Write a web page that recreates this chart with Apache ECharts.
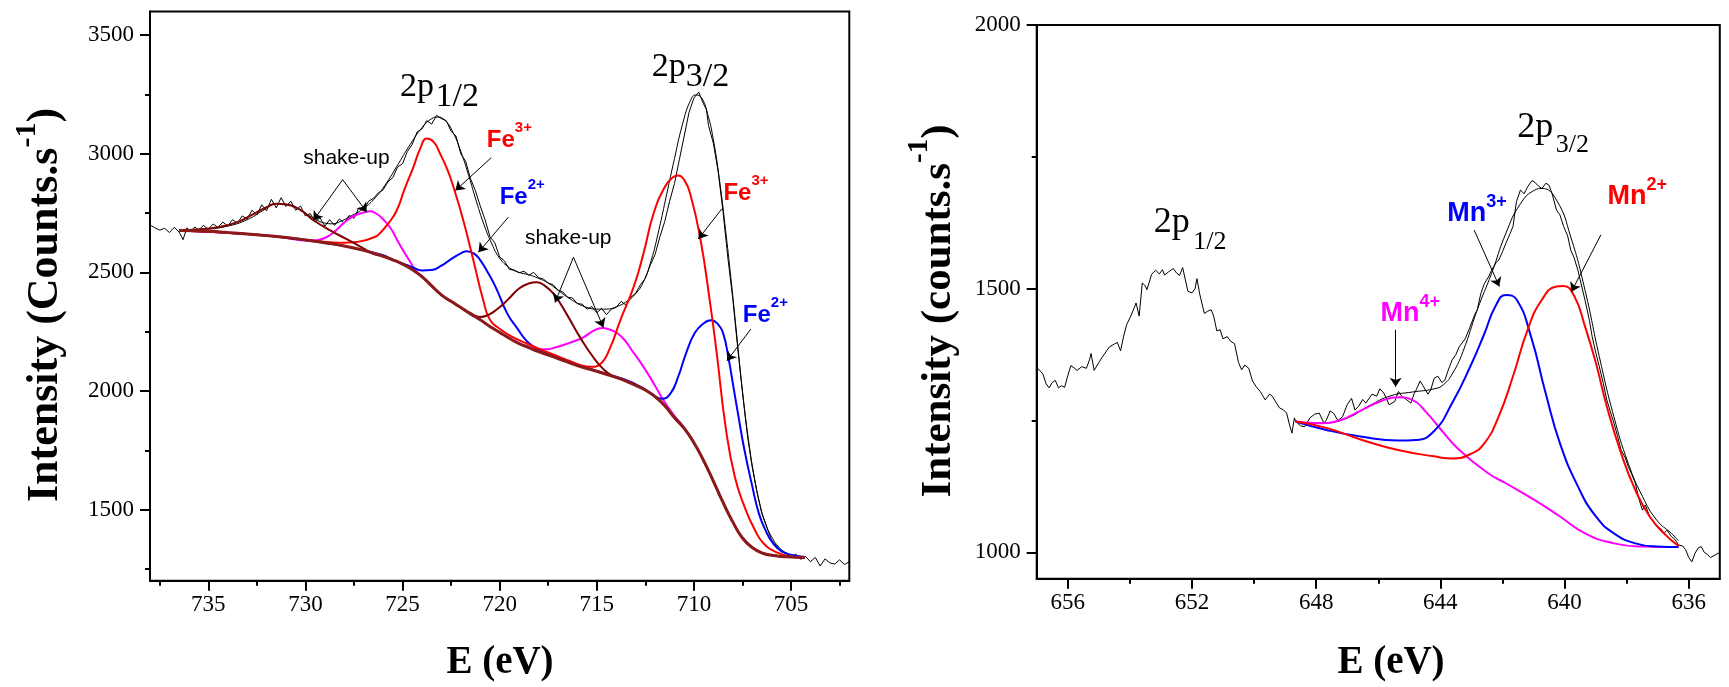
<!DOCTYPE html>
<html>
<head>
<meta charset="utf-8">
<script src="https://cdn.jsdelivr.net/npm/echarts@6.0.0/dist/echarts.min.js"></script>
<style>
  html, body { margin: 0; padding: 0; background: #fff; }
  #chart { width: 1729px; height: 687px; }
</style>
</head>
<body>
<div id="chart"></div>
<script>
// ---- Fe 2p panel (left) ----
var feMajorTicks = [705, 710, 715, 720, 725, 730, 735];
var feMinorTicks = [702.5, 707.5, 712.5, 717.5, 722.5, 727.5, 732.5, 737.5];
var feYMajor = [1500, 2000, 2500, 3000, 3500];
var feYMinor = [1250, 1750, 2250, 2750, 3250];

// measured spectrum (noisy)
var rawFe = [
  [738,2700],[737.75,2688],[737.5,2678],[737.25,2686],[737,2668],[736.75,2690],[736.5,2670],[736.3,2638],[736.1,2688],[735.9,2672],
  [735.7,2692],[735.5,2678],[735.25,2698],[735,2682],[734.75,2704],[734.5,2690],[734.25,2712],[734,2696],[733.75,2722],[733.5,2708],
  [733.25,2738],[733,2725],[732.75,2762],[732.5,2742],[732.25,2785],[732,2760],[731.75,2808],[731.5,2772],[731.25,2815],[731,2778],
  [730.75,2800],[730.5,2762],[730.25,2780],[730,2738],[729.75,2748],[729.5,2712],[729.25,2730],[729,2695],[728.75,2722],[728.5,2698],
  [728.25,2725],[728,2708],[727.75,2740],[727.5,2728],[727.25,2772],[727,2760],[726.75,2800],[726.5,2812],[726.25,2835],[726,2848],
  [725.75,2882],[725.5,2900],[725.25,2945],[725,2958],[724.75,3010],[724.5,3040],[724.25,3092],[724,3105],[723.75,3140],[723.5,3125],
  [723.25,3162],[723,3148],[722.75,3140],[722.5,3095],[722.25,3075],[722,3000],[721.75,2968],[721.5,2895],[721.25,2845],[721,2780],
  [720.75,2722],[720.5,2650],[720.25,2625],[720,2565],[719.75,2548],[719.5,2512],[719.25,2510],[719,2498],[718.75,2505],[718.5,2488],
  [718.25,2500],[718,2478],[717.75,2472],[717.5,2455],[717.25,2448],[717,2425],[716.75,2418],[716.5,2395],[716.25,2392],[716,2368],
  [715.75,2366],[715.5,2345],[715.25,2356],[715,2330],[714.75,2348],[714.5,2322],[714.25,2345],[714,2352],[713.75,2378],[713.5,2362],
  [713.25,2395],[713,2412],[712.75,2448],[712.5,2475],[712.25,2530],[712,2575],[711.75,2650],[711.5,2715],[711.25,2800],[711,2875],
  [710.75,2975],[710.5,3075],[710.25,3175],[710,3235],[709.75,3260],[709.5,3210],[709.35,3185],[709.25,3120],[709,3045],[708.75,2925],
  [708.5,2755],[708.25,2560],[708,2390],[707.75,2185],[707.5,1995],[707.25,1815],[707,1680],[706.75,1575],[706.5,1482],[706.25,1425],
  [706,1372],[705.75,1348],[705.5,1322],[705.25,1318],[705,1300],[704.75,1312],[704.5,1290],[704.25,1302],[704,1280],[703.75,1298],
  [703.5,1262],[703.25,1292],[703,1275],[702.75,1270],[702.5,1288],[702.25,1268],[702,1280]
];

// fit envelope
var envFe = [
  [736.5,2680],[735,2684],[734,2695],[733,2722],[732.2,2760],[731.5,2790],[730.8,2785],[730.2,2760],[729.6,2730],[729,2708],
  [728.6,2705],[728.2,2715],[727.6,2740],[727,2770],[726.4,2815],[725.8,2880],[725.2,2960],[724.6,3040],[724,3110],[723.5,3148],
  [723.2,3155],[722.8,3140],[722.4,3090],[722,3010],[721.6,2910],[721.2,2800],[720.8,2700],[720.4,2620],[720,2560],[719.5,2520],
  [719,2500],[718.5,2490],[718,2475],[717.5,2455],[717,2425],[716.5,2395],[716,2370],[715.5,2352],[715,2345],[714.5,2345],
  [714,2355],[713.5,2375],[713,2410],[712.6,2460],[712.2,2550],[711.8,2680],[711.4,2830],[711,2980],[710.6,3120],[710.2,3220],
  [709.9,3248],[709.6,3235],[709.3,3170],[709,3060],[708.7,2900],[708.4,2700],[708.1,2480],[707.8,2240],[707.5,2000],[707.2,1800],
  [706.9,1640],[706.6,1520],[706.3,1440],[706,1385],[705.6,1340],[705.2,1315],[704.8,1303],[704.3,1298]
];

// background
var bgFe = [
  [736.5,2677],[735,2674],[734,2668],[733,2662],[732,2655],[731,2647],[730,2637],[729,2625],[728,2611],[727,2593],
  [726,2568],[725.5,2553],[725,2535],[724.5,2512],[724,2482],[723.5,2443],[723,2405],[722.5,2378],[722,2352],[721.5,2325],
  [721,2300],[720.5,2272],[720,2247],[719.5,2222],[719,2200],[718.5,2183],[718,2166],[717,2137],[716,2107],[715,2083],
  [714,2057],[713.5,2042],[713,2024],[712.5,2004],[712,1976],[711.5,1938],[711,1887],[710.5,1842],[710,1782],[709.5,1706],
  [709,1620],[708.5,1530],[708,1448],[707.5,1380],[707,1340],[706.5,1317],[706,1307],[705.5,1302],[705,1300],[704.3,1298]
];

// Fe3+ component (red)
var fe3 = [
  [736.5,2677],[733,2662],[730.5,2643],[729.5,2632],[728.7,2627],[728,2625],[727.5,2627],[727,2634],[726.5,2647],[726.2,2662],
  [725.7,2710],[725.3,2761],[724.9,2850],[724.44,2944],[724.1,3020],[723.75,3064],[723.4,3050],[723.07,3001],[722.7,2935],[722.38,2860],
  [721.87,2719],[721.35,2550],[720.84,2381],[720.5,2300],[720,2262],[719.4,2230],[718.5,2196],[717.5,2162],[716.5,2130],[715.8,2108],
  [715.3,2102],[714.83,2113],[714.31,2183],[713.8,2296],[713.11,2437],[712.6,2578],[712.08,2747],[711.5,2860],[711.1,2900],[710.8,2909],
  [710.5,2890],[710.19,2832],[709.68,2648],[709.16,2367],[708.82,2155],[708.37,1850],[707.9,1640],[707.4,1513],[706.9,1420],[706.42,1358],
  [705.7,1318],[704.96,1302],[704.3,1298]
];

// Fe2+ component (blue)
var fe2 = [
  [736.5,2677],[733,2662],[730,2637],[728,2611],[727,2593],[726,2572],[725.5,2552],[725,2538],[724.5,2522],[724,2508],
  [723.5,2510],[723,2528],[722.5,2556],[722,2580],[721.7,2589],[721.3,2578],[721,2552],[720.6,2498],[720.2,2437],[719.6,2325],
  [719.1,2265],[718.6,2210],[718.1,2180],[717.5,2155],[716.5,2125],[715.5,2098],[714.5,2072],[713.5,2046],[712.8,2020],[712.2,1990],
  [711.65,1967],[711.2,1990],[710.8,2062],[710.4,2160],[709.95,2245],[709.5,2285],[709.1,2298],[708.8,2285],[708.5,2245],[708.2,2130],
  [708,2034],[707.7,1890],[707.4,1752],[707,1600],[706.66,1485],[706.3,1410],[705.93,1358],[705.5,1325],[704.96,1308],[704.3,1300]
];

// shake-up satellites (magenta)
var feSat1 = [
  [736.5,2677],[733,2662],[731.3,2650],[730.45,2638],[729.8,2634],[729.4,2636],[729,2645],[728.6,2665],[728.2,2695],[727.87,2719],
  [727.4,2742],[727,2752],[726.67,2758],[726.3,2745],[725.98,2722],[725.6,2685],[725.3,2640],[724.95,2590],[724.61,2545],[724.3,2505],
  [724,2484],[723.5,2444],[723,2405],[722.5,2378],[722,2352],[721.5,2325],[721,2300],[720.5,2272],[720,2247],[719.5,2223],
  [719,2202],[718.5,2186],[718.1,2176],[717.6,2176],[717.14,2183],[716.5,2200],[716,2215],[715.69,2226],[715.2,2252],[714.72,2266],
  [714.3,2258],[713.75,2231],[713.2,2172],[712.52,2092],[712,2022],[711.56,1960],[711,1895],[710.5,1846],[710,1783],[709.5,1706],
  [709,1620],[708.5,1530],[708,1448],[707.5,1380],[707,1340],[706.5,1317],[706,1307],[705.5,1302],[705,1300],[704.3,1298]
];

// shake-up satellites (dark red)
var feSat2 = [
  [736.5,2677],[735.5,2681],[734.5,2690],[733.5,2712],[732.7,2745],[732,2775],[731.5,2789],[731,2786],[730.45,2772],[730,2748],
  [729.6,2721],[728.7,2676],[727.9,2641],[727.2,2610],[726.5,2578],[726,2568],[725,2535],[724,2482],[723,2405],[722,2352],
  [721.5,2328],[721,2312],[720.6,2320],[720.2,2340],[719.6,2383],[719,2432],[718.5,2453],[718.1,2458],[717.7,2445],[717.2,2407],
  [716.55,2324],[715.86,2226],[715.17,2141],[714.66,2092],[714.2,2064],[713.5,2043],[713,2024],[712.5,2004],[712,1976],[711.5,1938],
  [711,1887],[710.5,1842],[710,1782],[709.5,1706],[709,1620],[708.5,1530],[708,1448],[707.5,1380],[707,1340],[706.5,1317],
  [706,1307],[705.5,1302],[705,1300],[704.3,1298]
];

// ---- Mn 2p panel (right) ----
var mnMajorTicks = [636, 640, 644, 648, 652, 656];
var mnMinorTicks = [638, 642, 646, 650, 654];
var mnYMajor = [1000, 1500, 2000];
var mnYMinor = [1250, 1750];

var rawMn = [
  [657,1350],[656.9,1345],[656.8,1338],[656.7,1320],[656.6,1312],[656.5,1322],[656.4,1326],[656.3,1312],[656.2,1316],[656.1,1313],
  [656,1335],[655.9,1354],[655.8,1350],[655.7,1345],[655.55,1352],[655.4,1349],[655.3,1365],[655.25,1377],[655.15,1345],[655,1360],
  [654.9,1369],[654.75,1382],[654.65,1390],[654.5,1395],[654.4,1398],[654.3,1382],[654.2,1410],[654.1,1432],[653.97,1448],[653.85,1465],
  [653.8,1473],[653.7,1448],[653.6,1511],[653.5,1505],[653.45,1498],[653.3,1527],[653.17,1535],[653.05,1528],[652.95,1536],[652.88,1526],
  [652.75,1532],[652.6,1538],[652.5,1530],[652.4,1525],[652.3,1540],[652.25,1538],[652.13,1495],[652,1492],[651.9,1500],[651.84,1519],
  [651.75,1490],[651.65,1465],[651.6,1453],[651.5,1457],[651.38,1460],[651.3,1448],[651.2,1420],[651.09,1422],[651,1405],[650.86,1409],
  [650.75,1400],[650.63,1396],[650.5,1360],[650.4,1346],[650.3,1355],[650.17,1349],[650.05,1325],[649.93,1314],[649.8,1305],[649.64,1289],
  [649.5,1300],[649.41,1296],[649.3,1285],[649.18,1274],[649.05,1270],[648.95,1264],[648.85,1240],[648.78,1226],[648.7,1255],[648.66,1248],
  [648.5,1240],[648.37,1238],[648.2,1255],[648.05,1262],[647.9,1264],[647.75,1245],[647.67,1251],[647.55,1268],[647.44,1264],[647.3,1250],
  [647.15,1257],[647,1280],[646.86,1292],[646.75,1270],[646.63,1277],[646.5,1290],[646.4,1283],[646.2,1300],[646.05,1296],[645.95,1310],
  [645.82,1302],[645.65,1280],[645.47,1286],[645.35,1305],[645.24,1296],[645.1,1290],[644.95,1283],[644.85,1300],[644.78,1308],[644.65,1325],
  [644.55,1315],[644.4,1300],[644.31,1308],[644.2,1330],[644.08,1334],[643.95,1322],[643.85,1327],[643.75,1345],[643.62,1365],[643.5,1375],
  [643.39,1390],[643.2,1405],[643.04,1428],[642.9,1450],[642.81,1460],[642.7,1490],[642.58,1510],[642.45,1522],[642.35,1535],[642.2,1550],
  [642.12,1554],[642,1570],[641.89,1586],[641.75,1605],[641.66,1618],[641.55,1665],[641.42,1687],[641.3,1680],[641.19,1693],[641.05,1705],
  [640.96,1702],[640.85,1695],[640.73,1690],[640.6,1700],[640.5,1696],[640.4,1680],[640.26,1649],[640.15,1640],[640.03,1618],[639.9,1600],
  [639.8,1573],[639.7,1560],[639.57,1535],[639.45,1505],[639.34,1478],[639.2,1440],[639.11,1409],[639,1380],[638.88,1352],[638.75,1320],
  [638.64,1289],[638.5,1262],[638.41,1245],[638.3,1222],[638.18,1194],[638.05,1180],[637.95,1163],[637.85,1150],[637.72,1131],[637.6,1100],
  [637.49,1080],[637.4,1090],[637.26,1068],[637.15,1060],[637.03,1049],[636.9,1045],[636.8,1036],[636.7,1042],[636.56,1030],[636.45,1025],
  [636.33,1014],[636.2,1012],[636.1,1005],[636,990],[635.9,982],[635.8,998],[635.7,1008],[635.6,1011],[635.5,1000],[635.4,996],
  [635.3,990],[635,1000]
];

var envMn = [
  [648.66,1248],[648.37,1245],[647.67,1246],[646.98,1255],[646.29,1278],[645.59,1297],[644.9,1304],[644.2,1310],[643.9,1318],[643.6,1340],
  [643.27,1381],[642.81,1460],[642.35,1529],[641.89,1605],[641.42,1661],[640.96,1687],[640.73,1690],[640.26,1668],[639.8,1598],[639.34,1497],
  [638.88,1371],[638.41,1257],[637.95,1169],[637.49,1106],[637.03,1061],[636.56,1036],[636.33,1022]
];

var mn2 = [
  [648.66,1248],[647.67,1236],[646.52,1213],[645.36,1194],[644.2,1182],[643.62,1178],[643.04,1186],[642.58,1207],[642.12,1258],[641.66,1334],
  [641.19,1422],[640.73,1479],[640.26,1504],[640.03,1505],[639.68,1485],[639.34,1428],[638.99,1359],[638.64,1277],[638.18,1188],[637.72,1118],
  [637.26,1068],[636.8,1036],[636.33,1012]
];

var mn3 = [
  [648.66,1248],[647.67,1232],[646.52,1219],[645.36,1212],[644.78,1213],[644.2,1230],[643.62,1283],[643.04,1352],[642.58,1415],[642.23,1466],
  [641.89,1488],[641.54,1479],[641.08,1409],[640.61,1302],[640.15,1207],[639.57,1125],[638.99,1068],[638.41,1036],[637.72,1017],[637.03,1011],
  [636.33,1010]
];

var mn4 = [
  [648.66,1248],[647.9,1245],[647.21,1251],[646.52,1270],[645.94,1286],[645.36,1294],[644.9,1289],[644.43,1264],[643.97,1232],[643.39,1194],
  [642.46,1150],[641.89,1131],[640.96,1099],[640.15,1068],[639.34,1036],[638.41,1017],[637.49,1011],[636.33,1010]
];

var chart = echarts.init(document.getElementById('chart'));

var serif = 'Liberation Serif';
var sans = 'Liberation Sans';

function plain(v) { return String(v); }

function majorX(grid, min, max, ticks) {
    return {
        type: 'value', gridIndex: grid, min: min, max: max, inverse: true, position: 'bottom',
        axisLine: { show: true, lineStyle: { color: '#000', width: 2 } },
        axisTick: { show: true, length: 10, lineStyle: { color: '#000', width: 2 }, customValues: ticks },
        axisLabel: { margin: 13, customValues: ticks, formatter: plain, fontFamily: serif, fontSize: 23, color: '#000' },
        splitLine: { show: false }
    };
}
function minorX(grid, min, max, ticks) {
    return {
        type: 'value', gridIndex: grid, min: min, max: max, inverse: true, position: 'bottom',
        axisLine: { show: false },
        axisTick: { show: true, length: 5, lineStyle: { color: '#000', width: 2 }, customValues: ticks },
        axisLabel: { show: false },
        splitLine: { show: false }
    };
}
function majorY(grid, min, max, ticks) {
    return {
        type: 'value', gridIndex: grid, min: min, max: max, position: 'left',
        axisLine: { show: true, lineStyle: { color: '#000', width: 2 } },
        axisTick: { show: true, length: 10, lineStyle: { color: '#000', width: 2 }, customValues: ticks },
        axisLabel: { margin: 16, customValues: ticks, formatter: plain, fontFamily: serif, fontSize: 23, color: '#000' },
        splitLine: { show: false }
    };
}
function minorY(grid, min, max, ticks) {
    return {
        type: 'value', gridIndex: grid, min: min, max: max, position: 'left',
        axisLine: { show: false },
        axisTick: { show: true, length: 5, lineStyle: { color: '#000', width: 2 }, customValues: ticks },
        axisLabel: { show: false },
        splitLine: { show: false }
    };
}

function line(data, color, width, xi, yi, smooth) {
    return {
        type: 'line', data: data, xAxisIndex: xi, yAxisIndex: yi,
        showSymbol: false, symbol: 'none', smooth: smooth, silent: true,
        lineStyle: { color: color, width: width }
    };
}

var arrowStyle = {
    symbol: ['none', 'arrow'], symbolSize: 9, silent: true,
    lineStyle: { color: '#000', width: 1, type: 'solid' },
    itemStyle: { color: '#000' },
    label: { show: false }, emphasis: { disabled: true }
};

var feRich = {
    p: { fontFamily: serif, fontSize: 34, color: '#000' },
    r: { fontFamily: sans, fontWeight: 'bold', fontSize: 24, lineHeight: 32, verticalAlign: 'bottom', color: '#ff0000' },
    rs: { fontFamily: sans, fontWeight: 'bold', fontSize: 15, lineHeight: 15, verticalAlign: 'top', color: '#ff0000' },
    b: { fontFamily: sans, fontWeight: 'bold', fontSize: 24, lineHeight: 32, verticalAlign: 'bottom', color: '#0000ff' },
    bs: { fontFamily: sans, fontWeight: 'bold', fontSize: 15, lineHeight: 15, verticalAlign: 'top', color: '#0000ff' },
    su: { fontFamily: sans, fontSize: 21, lineHeight: 24, verticalAlign: 'middle', color: '#000' }
};
var mnRich = {
    p: { fontFamily: serif, fontSize: 36, color: '#000' },
    ps: { fontFamily: serif, fontSize: 26, color: '#000' },
    r: { fontFamily: sans, fontWeight: 'bold', fontSize: 27, lineHeight: 34, verticalAlign: 'bottom', color: '#ff0000' },
    rs: { fontFamily: sans, fontWeight: 'bold', fontSize: 18, lineHeight: 18, verticalAlign: 'top', color: '#ff0000' },
    b: { fontFamily: sans, fontWeight: 'bold', fontSize: 27, lineHeight: 34, verticalAlign: 'bottom', color: '#0000ff' },
    bs: { fontFamily: sans, fontWeight: 'bold', fontSize: 18, lineHeight: 18, verticalAlign: 'top', color: '#0000ff' },
    m: { fontFamily: sans, fontWeight: 'bold', fontSize: 27, lineHeight: 34, verticalAlign: 'bottom', color: '#ff00ff' },
    ms: { fontFamily: sans, fontWeight: 'bold', fontSize: 18, lineHeight: 18, verticalAlign: 'top', color: '#ff00ff' }
};

function note(e, i, text) {
    return { coord: [e, i], label: { formatter: text } };
}
function markPoints(rich, items) {
    return {
        symbol: 'circle', symbolSize: 0, silent: true,
        itemStyle: { color: 'rgba(0,0,0,0)' },
        label: { show: true, position: [0, 0], align: 'left', verticalAlign: 'middle', rich: rich },
        data: items
    };
}

var rawFeSeries = line(rawFe, '#000', 1, 0, 0, false);
rawFeSeries.markPoint = markPoints(feRich, [
    note(725.13, 3282, '{p|2p}'),
    note(723.30, 3240, '{p|1/2}'),
    note(712.17, 3367, '{p|2p}'),
    note(710.42, 3324, '{p|3/2}'),
    note(720.66, 3074, '{r|Fe}{rs|3+}'),
    note(720.0, 2833, '{b|Fe}{bs|2+}'),
    note(708.48, 2849, '{r|Fe}{rs|3+}'),
    note(707.48, 2335, '{b|Fe}{bs|2+}'),
    note(730.11, 2981, '{su|shake-up}'),
    note(718.69, 2643, '{su|shake-up}')
]);
rawFeSeries.markLine = Object.assign({
    data: [
        [{ coord: [720.43, 2984] }, { coord: [722.28, 2845] }],
        [{ coord: [719.55, 2733] }, { coord: [721.09, 2585] }],
        [{ coord: [708.56, 2768] }, { coord: [709.77, 2641] }],
        [{ coord: [707.07, 2261] }, { coord: [708.30, 2127] }],
        [{ coord: [728.08, 2891] }, { coord: [729.59, 2719] }],
        [{ coord: [728.08, 2891] }, { coord: [726.84, 2754] }],
        [{ coord: [716.20, 2564] }, { coord: [717.15, 2373] }],
        [{ coord: [716.20, 2564] }, { coord: [714.66, 2268] }]
    ]
}, arrowStyle);

var rawMnSeries = line(rawMn, '#000', 1, 2, 2, false);
rawMnSeries.markPoint = markPoints(mnRich, [
    note(653.23, 1625, '{p|2p}'),
    note(651.96, 1588, '{ps|1/2}'),
    note(641.52, 1805, '{p|2p}'),
    note(640.28, 1772, '{ps|3/2}'),
    note(643.78, 1649, '{b|Mn}{bs|3+}'),
    note(638.62, 1681, '{r|Mn}{rs|2+}'),
    note(645.93, 1460, '{m|Mn}{ms|4+}')
]);
rawMnSeries.markLine = Object.assign({
    data: [
        [{ coord: [642.91, 1611] }, { coord: [642.10, 1504] }],
        [{ coord: [638.83, 1602] }, { coord: [639.78, 1494] }],
        [{ coord: [645.44, 1422] }, { coord: [645.44, 1314] }]
    ]
}, arrowStyle);

function titleRich(size, supSize, lh) {
    return {
        t: { fontFamily: serif, fontWeight: 'bold', fontSize: size, lineHeight: lh, verticalAlign: 'bottom', fill: '#000' },
        ts: { fontFamily: serif, fontWeight: 'bold', fontSize: supSize, lineHeight: supSize, verticalAlign: 'top', fill: '#000' }
    };
}

var option = {
    animation: false,
    backgroundColor: '#fff',
    grid: [
        { left: 150, top: 11.5, width: 699.3, height: 569.2, show: true, borderColor: '#000', borderWidth: 2, backgroundColor: 'transparent' },
        { left: 1036.7, top: 25, width: 705.1, height: 553.7, show: true, borderColor: '#000', borderWidth: 2, backgroundColor: 'transparent' }
    ],
    xAxis: [
        majorX(0, 702, 738, feMajorTicks),
        minorX(0, 702, 738, feMinorTicks),
        majorX(1, 635, 657, mnMajorTicks),
        minorX(1, 635, 657, mnMinorTicks)
    ],
    yAxis: [
        majorY(0, 1200, 3600, feYMajor),
        minorY(0, 1200, 3600, feYMinor),
        majorY(1, 950, 2000, mnYMajor),
        minorY(1, 950, 2000, mnYMinor)
    ],
    series: [
        rawFeSeries,
        line(envFe, '#000', 1, 0, 0, true),
        line(feSat1, '#ff00ff', 2, 0, 0, true),
        line(fe2, '#0000ff', 2, 0, 0, true),
        line(fe3, '#ff0000', 2, 0, 0, true),
        line(feSat2, '#800000', 2, 0, 0, true),
        line(bgFe, '#8b1a1a', 3, 0, 0, true),

        rawMnSeries,
        line(envMn, '#000', 1, 2, 2, true),
        line(mn4, '#ff00ff', 2, 2, 2, true),
        line(mn3, '#0000ff', 2, 2, 2, true),
        line(mn2, '#ff0000', 2, 2, 2, true)
    ],
    graphic: [
        { type: 'text', x: 40, y: 305, rotation: Math.PI / 2, silent: true,
          style: { text: '{t|Intensity (Counts.s}{ts|-1}{t|)}', rich: titleRich(44, 30, 56), align: 'center', verticalAlign: 'middle' } },
        { type: 'text', x: 933, y: 311, rotation: Math.PI / 2, silent: true,
          style: { text: '{t|Intensity (counts.s}{ts|-1}{t|)}', rich: titleRich(43, 29, 55), align: 'center', verticalAlign: 'middle' } },
        { type: 'text', x: 500, y: 663, silent: true,
          style: { text: 'E (eV)', fontFamily: serif, fontWeight: 'bold', fontSize: 39, fill: '#000', align: 'center', verticalAlign: 'middle' } },
        { type: 'text', x: 1391, y: 663, silent: true,
          style: { text: 'E (eV)', fontFamily: serif, fontWeight: 'bold', fontSize: 39, fill: '#000', align: 'center', verticalAlign: 'middle' } }
    ]
};

chart.setOption(option);
</script>
</body>
</html>
